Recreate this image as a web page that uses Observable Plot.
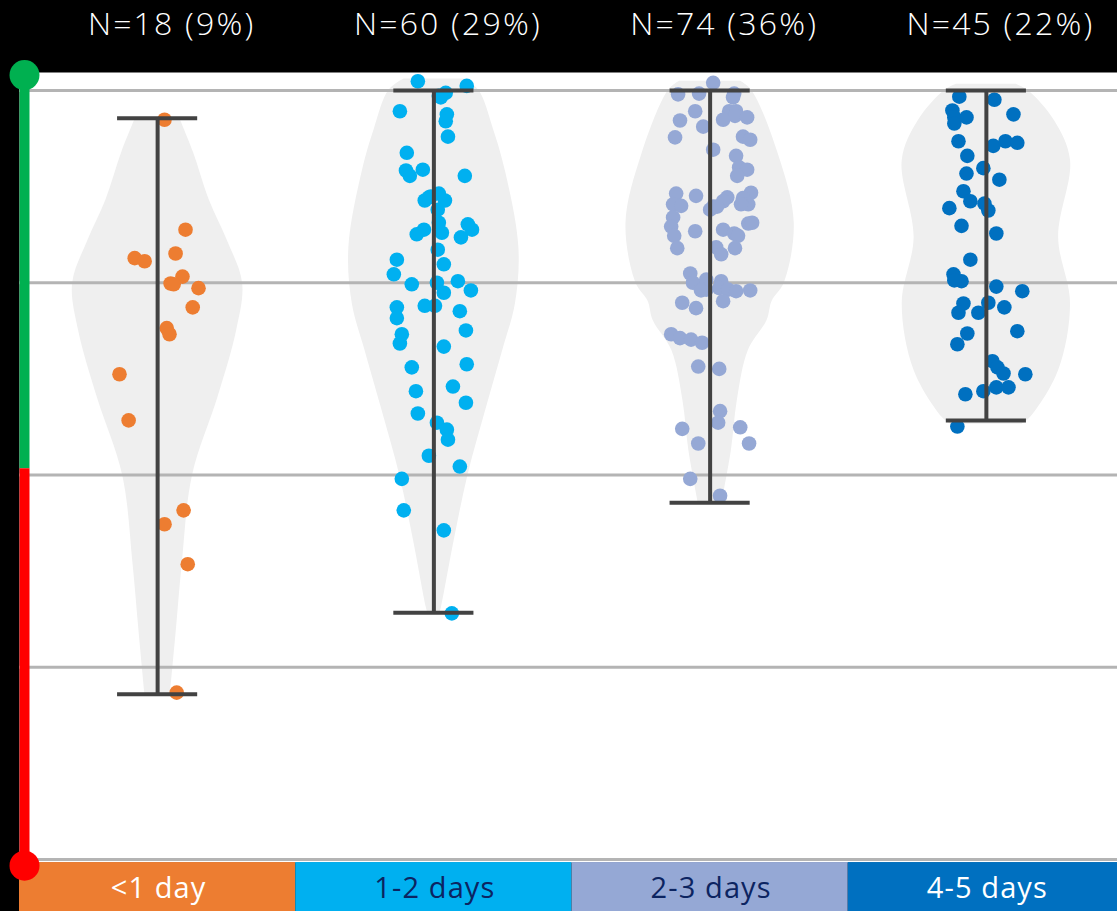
<!DOCTYPE html>
<html>
<head>
<meta charset="utf-8">
<script src="https://cdn.jsdelivr.net/npm/d3@7"></script>
<script src="https://cdn.jsdelivr.net/npm/@observablehq/plot@0.6"></script>
<style>
  html, body { margin: 0; padding: 0; background: #000; }
  #chart svg { display: block; }
  .nlab text { letter-spacing: 2.2px; }
  .catlab text { letter-spacing: 1.1px; }
</style>
</head>
<body>
<div id="chart"></div>
<script>
// ---------- data ----------
const categories = ["<1 day", "1-2 days", "2-3 days", "4-5 days"];
const counts = [18, 60, 74, 45];
const percents = [9, 29, 36, 22];
const catColors = ["#ED7D31", "#00B0F0", "#95A8D5", "#0070C0"];
const labelColors = ["#FFFFFF", "#0C2461", "#0C2461", "#FFFFFF"];

// whisker ranges (score)
const whiskerLo = [21.5, 32.1, 46.4, 57.1];
const whiskerHi = [96.4, 100, 100, 100];

// gridlines
const gridValues = [0, 25, 50, 75, 100];

// left indicator: green above threshold, red below
const indicatorTop = 102;
const indicatorThreshold = 50.8;
const indicatorBottom = -0.8;

// points: [score, horizontal jitter in hundredths of a category]
const pts0 = [[96.2,2.5],[81.9,10.1],[78.2,-8.3],[77.8,-4.7],[78.8,6.5],[75.8,9.0],[74.9,4.7],[74.8,5.8],[74.3,14.8],[71.8,12.7],[69.1,3.3],[68.3,4.3],[63.1,-13.8],[57.1,-10.5],[45.4,9.4],[43.6,2.5],[38.4,10.9],[21.7,6.9]];
const pts1 = [[101.2,-5.8],[100.6,11.9],[99.3,1.8],[99.7,4.3],[99.1,2.5],[97.3,-12.3],[96.9,4.7],[96.0,4.3],[94.0,5.1],[91.9,-9.8],[89.6,-10.1],[88.9,-8.7],[89.7,-4.0],[88.9,11.2],[86.6,1.8],[86.2,-1.1],[85.7,-3.3],[85.7,4.0],[84.5,1.4],[82.8,1.8],[82.6,12.3],[81.9,13.8],[81.9,-3.6],[81.3,-6.2],[81.5,2.9],[80.9,9.8],[79.3,1.4],[78.0,-13.4],[77.4,3.6],[76.1,-14.5],[74.8,-8.0],[75.0,1.1],[75.2,8.7],[73.7,3.6],[74.0,13.4],[71.8,-13.4],[72.0,-3.3],[72.0,0.4],[71.3,9.4],[70.4,-13.4],[68.8,11.6],[68.3,-11.6],[67.1,-12.3],[66.7,3.6],[64.0,-8.0],[64.4,11.9],[60.9,-6.5],[61.5,6.9],[59.4,11.6],[58.0,-5.8],[56.8,1.1],[55.9,4.7],[54.6,5.1],[52.5,-1.8],[51.1,9.4],[49.5,-11.6],[45.4,-10.9],[42.8,3.6],[32.0,6.5],[86.1,-1.8]];
const pts2 = [[101.0,1.1],[99.5,-11.6],[99.6,-4.0],[99.6,8.7],[99.1,8.3],[97.3,-5.4],[97.3,6.9],[97.3,9.4],[96.7,9.0],[96.5,13.4],[96.2,4.7],[96.1,-10.9],[95.3,-2.5],[93.9,-12.7],[94.0,11.9],[93.6,14.5],[92.3,1.1],[91.5,9.4],[90.0,10.5],[89.7,13.4],[88.9,9.8],[86.6,-12.3],[86.3,-5.1],[86.7,14.8],[86.1,6.2],[85.6,4.7],[86.0,11.9],[85.2,-13.4],[85.0,-10.5],[85.2,13.8],[84.9,1.1],[84.5,0],[83.5,-13.4],[82.3,-14.1],[81.1,-13.0],[81.7,-5.4],[81.9,4.7],[81.4,8.7],[81.1,10.1],[82.7,13.8],[82.8,15.2],[79.5,-11.9],[79.6,2.2],[78.7,4.0],[79.5,9.0],[76.2,-7.2],[75.0,-6.2],[75.4,-1.4],[75.2,4.0],[74.1,-1.4],[74.3,3.3],[74.1,6.5],[73.9,9.4],[74.0,14.5],[72.4,-10.1],[71.7,-5.1],[72.6,4.7],[68.3,-14.1],[67.8,-10.9],[67.6,-6.9],[67.2,-2.9],[64.1,-4.3],[63.8,3.3],[58.3,3.6],[56.8,2.9],[56.0,-10.1],[56.2,10.9],[54.1,-4.3],[54.1,14.1],[49.5,-7.2],[47.3,3.6],[84.9,2.5],[85.2,11.2],[74.0,-3.3]];
const pts3 = [[99.2,-9.8],[98.8,2.9],[97.4,-12.3],[96.5,-11.6],[96.5,-7.2],[95.7,-11.6],[96.9,9.8],[93.4,-10.1],[92.8,2.5],[93.4,6.9],[93.2,11.2],[91.5,-6.9],[89.9,-1.1],[89.2,-7.2],[88.4,4.7],[86.9,-8.3],[85.6,-5.8],[85.3,-0.7],[84.4,0.7],[84.7,-13.4],[82.4,-9.0],[81.4,3.6],[78.0,-5.8],[76.1,-11.9],[75.2,-9.0],[74.5,3.6],[73.9,13.0],[72.4,0.7],[72.3,-8.3],[71.1,-10.1],[71.1,-2.9],[71.8,6.5],[68.4,-6.9],[68.7,11.2],[67.0,-10.5],[64.8,2.2],[64.0,4.0],[63.2,6.2],[63.1,14.1],[60.5,-7.6],[60.9,-1.1],[61.4,3.6],[61.4,8.0],[56.3,-10.5],[75.3,-11.6]];

// violin outlines: [score, relative half-width 0..1]
const violin0 = [[96.4,0.26],[92.0,0.42],[85.7,0.61],[80.5,0.82],[74.9,1.0],[68.8,0.93],[60.1,0.71],[49.9,0.41],[38.5,0.29],[29.8,0.22],[21.5,0.15]];
const violin1 = [[101.5,0.35],[100,0.53],[95,0.70],[89.6,0.84],[79.6,1.0],[72.3,0.96],[66.2,0.81],[58.8,0.62],[49.9,0.40],[41.5,0.24],[32.8,0.09],[32.0,0.07]];
const violin2 = [[101.2,0.36],[100,0.49],[91.8,0.80],[82.7,0.99],[74.9,0.87],[72.6,0.73],[70.1,0.67],[66.2,0.45],[59.7,0.32],[53.2,0.25],[46.4,0.14]];
const violin3 = [[100.8,0.35],[100,0.49],[96.1,0.80],[90.9,0.99],[80.9,0.85],[72.3,0.99],[63.6,0.85],[57.5,0.52],[56.6,0.42]];

// ---------- derived tables ----------
const allPts = [pts0, pts1, pts2, pts3];
const allViolins = [violin0, violin1, violin2, violin3];
const dots = allPts.flatMap((arr, i) => arr.map(([v, j]) => ({i, v, j})));
const violinRows = allViolins.flatMap((arr, i) => arr.map(([v, d]) => ({i, v, d})));
const groups = categories.map((c, i) => ({
  i, cat: c, lo: whiskerLo[i], hi: whiskerHi[i],
  label: `N=${counts[i]} (${percents[i]}%)`,
  color: catColors[i], text: labelColors[i]
}));

const HALF = 0.3077;   // max violin half-width in category units
const CAP = 0.145;     // whisker cap half-width in category units
const FONT = "'Open Sans', 'Helvetica Neue', Arial, sans-serif";

const chart = Plot.plot({
  width: 1117,
  height: 911,
  marginTop: 72,
  marginLeft: 19,
  marginRight: 0,
  marginBottom: 49,
  style: {background: "#000", overflow: "visible", fontFamily: FONT},
  x: {domain: [-0.5, 3.5], range: [19, 1124], axis: null},
  y: {domain: [0, 100], range: [859, 90], axis: null},
  marks: [
    Plot.frame({fill: "#fff", stroke: null}),
    Plot.areaX(violinRows, {
      y: "v",
      x1: d => d.i - d.d * HALF,
      x2: d => d.i + d.d * HALF,
      z: "i",
      fill: "#EFEFEF",
      curve: "catmull-rom"
    }),
    Plot.ruleY(gridValues, {stroke: "#B4B4B4", strokeWidth: 3}),
    Plot.dot(dots, {
      x: d => d.i + d.j / 100,
      y: "v",
      r: 7.3,
      fill: d => catColors[d.i],
      stroke: null
    }),
    Plot.ruleX(groups, {x: "i", y1: "lo", y2: "hi", stroke: "#424242", strokeWidth: 4}),
    Plot.ruleY(groups, {y: "lo", x1: d => d.i - CAP, x2: d => d.i + CAP, stroke: "#424242", strokeWidth: 4}),
    Plot.ruleY(groups, {y: "hi", x1: d => d.i - CAP, x2: d => d.i + CAP, stroke: "#424242", strokeWidth: 4}),
    // category strip
    Plot.rect(groups, {
      x1: d => d.i - 0.5,
      x2: d => d.i + 0.5,
      y1: -0.4,
      y2: -7,
      fill: "color"
    }),
    Plot.text(groups, {
      x: "i",
      dx: 1,
      frameAnchor: "bottom",
      dy: 26,
      text: "cat",
      fill: "text",
      fontSize: 29,
      lineAnchor: "middle",
      className: "catlab"
    }),
    // N labels in header
    Plot.text(groups, {
      x: "i",
      dx: 14,
      frameAnchor: "top",
      dy: -48,
      text: "label",
      fill: "#fff",
      fontSize: 32,
      fontWeight: 300,
      lineAnchor: "middle",
      className: "nlab"
    }),
    // left indicator
    Plot.ruleX([
      {y1: indicatorThreshold, y2: indicatorTop, c: "#00B050"},
      {y1: indicatorBottom, y2: indicatorThreshold, c: "#FF0000"}
    ], {x: () => -0.5, dx: 5, y1: "y1", y2: "y2", stroke: "c", strokeWidth: 10}),
    Plot.dot([
      {y: indicatorTop, c: "#00B050"},
      {y: indicatorBottom, c: "#FF0000"}
    ], {x: () => -0.5, dx: 5, y: "y", r: 15, fill: "c", stroke: null})
  ]
});
document.getElementById("chart").append(chart);
</script>
</body>
</html>
